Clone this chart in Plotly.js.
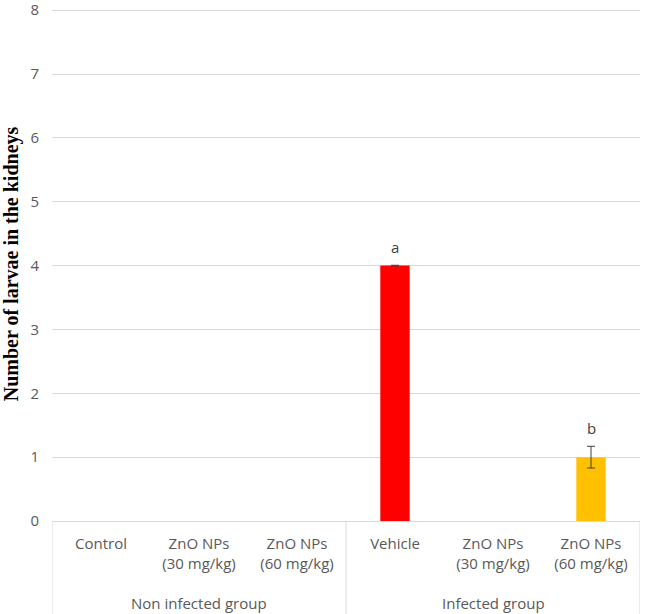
<!DOCTYPE html>
<html><head><meta charset="utf-8">
<script src="https://cdn.plot.ly/plotly-3.0.1.min.js"></script>
<style>html,body{margin:0;padding:0;background:#fff}#chart{width:645px;height:614px}</style>
</head><body><div id="chart"></div>
<script>
const categories = ["Control", "ZnO NPs<br>(30 mg/kg)", "ZnO NPs<br>(60 mg/kg)", "Vehicle", "ZnO NPs<br>(30 mg/kg)", "ZnO NPs<br>(60 mg/kg)"];
const values = [0, 0, 0, 4, 0, 1];
const errors = [0, 0, 0, 0.005, 0, 0.17];
const barColors = ["#ff0000", "#ff0000", "#ff0000", "#ff0000", "#ffc000", "#ffc000"];
const letters = ["", "", "", "a", "", "b"];
const groups = ["Non infected group", "Infected group"];
const groupCenters = [1, 4];
const yTicks = [0, 1, 2, 3, 4, 5, 6, 7, 8];

const idx = categories.map((c, i) => i);
// zero-height bars draw nothing (and no error caps), as in the original
const shownValues = values.map(v => (v === 0 ? null : v));

const annotations = [];
letters.forEach((l, i) => {
  if (l) annotations.push({x: i, y: values[i] + errors[i], xref: 'x', yref: 'y', text: l, showarrow: false,
    yanchor: 'bottom', yshift: 6, font: {family: 'Open Sans, sans-serif', size: 15, color: '#404040'}});
});
groups.forEach((g, i) => {
  annotations.push({x: groupCenters[i], y: -0.16, xref: 'x', yref: 'paper', text: g, showarrow: false,
    yanchor: 'middle', font: {family: 'Open Sans, sans-serif', size: 15, color: '#595959'}});
});

const shapes = [-0.5, 2.5, 5.5].map(x => ({type: 'line', xref: 'x', yref: 'paper', x0: x, x1: x, y0: 0, y1: -0.2,
  line: {color: '#d9d9d9', width: 1}}));

Plotly.newPlot('chart', [{
  type: 'bar', x: idx, y: shownValues, width: 0.3,
  marker: {color: barColors},
  error_y: {type: 'data', array: errors, visible: true, color: '#404040', thickness: 1, width: 4},
  hoverinfo: 'none'
}], {
  width: 645, height: 614,
  margin: {l: 52, r: 5, t: 7, b: 93},
  paper_bgcolor: '#fff', plot_bgcolor: '#fff',
  showlegend: false,
  xaxis: {range: [-0.5, 5.5], tickvals: idx, ticktext: categories, showgrid: false, zeroline: false,
    showline: false, ticks: '', tickfont: {family: 'Open Sans, sans-serif', size: 15, color: '#595959'}, ticklabelstandoff: 12},
  yaxis: {range: [0, 8.05], tickvals: yTicks, showgrid: true, gridcolor: '#d9d9d9', zeroline: true, zerolinecolor: '#d9d9d9',
    ticks: '', tickfont: {family: 'Open Sans, sans-serif', size: 15, color: '#595959'}, ticklabelstandoff: 12,
    ticklabeloverflow: 'allow',
    title: {text: '<b>Number of larvae in the kidneys</b>', standoff: 8,
      font: {family: 'Liberation Serif, Times New Roman, serif', size: 20, color: '#000'}}},
  annotations: annotations,
  shapes: shapes
}, {staticPlot: true});
</script></body></html>
